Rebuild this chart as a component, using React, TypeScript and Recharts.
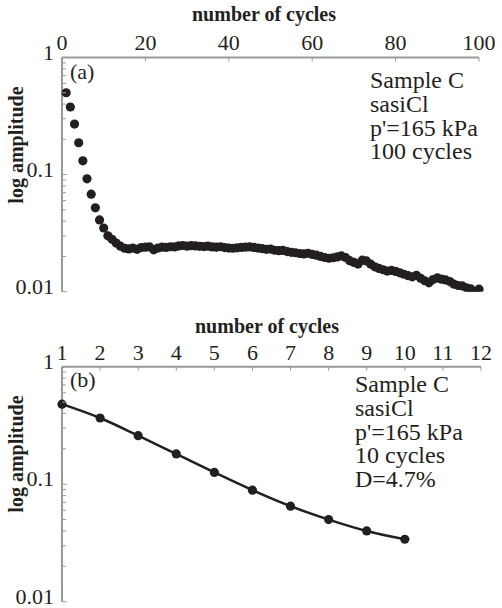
import { LineChart, Line, XAxis, YAxis } from 'recharts'

// panel (a): amplitude per cycle, 100 cycles
const cyclesA = Array.from({ length: 100 }, (_, i) => i + 1)
const amplitudeA = [
  0.50, 0.378, 0.27, 0.187, 0.131, 0.092, 0.068, 0.052, 0.041, 0.035,
  0.030, 0.028, 0.026, 0.0245, 0.0235, 0.0232, 0.0236, 0.0230, 0.0238, 0.0240,
  0.0241, 0.0228, 0.0236, 0.0240, 0.0239, 0.0242, 0.0241, 0.0246, 0.0248, 0.0245,
  0.0247, 0.0246, 0.0244, 0.0243, 0.0245, 0.0241, 0.0240, 0.0242, 0.0238, 0.0236,
  0.0235, 0.0237, 0.0239, 0.0240, 0.0241, 0.0239, 0.0236, 0.0233, 0.0230, 0.0231,
  0.0226, 0.0224, 0.0225, 0.0220, 0.0217, 0.0215, 0.0212, 0.0210, 0.0213, 0.0208,
  0.0205, 0.0200, 0.0196, 0.0193, 0.0195, 0.0198, 0.0202, 0.0196, 0.0184, 0.0178,
  0.0172, 0.0186, 0.0183, 0.0172, 0.0163, 0.0158, 0.0154, 0.0150, 0.0152, 0.0149,
  0.0145, 0.0141, 0.0137, 0.0134, 0.0138, 0.0130, 0.0124, 0.0119, 0.0127, 0.0131,
  0.0128, 0.0126, 0.0122, 0.0116, 0.0113, 0.0112, 0.0108, 0.0106, 0.0100, 0.0105,
]

// panel (b): first 10 cycles
const cyclesB = [1, 2, 3, 4, 5, 6, 7, 8, 9, 10]
const amplitudeB = [0.48, 0.366, 0.259, 0.181, 0.126, 0.089, 0.065, 0.050, 0.040, 0.034]

const xTicksA = [0, 20, 40, 60, 80, 100]
const xTicksB = [1, 2, 3, 4, 5, 6, 7, 8, 9, 10, 11, 12]
const yMajor = [0.01, 0.1, 1]
const yLabels: Record<string, string> = { '0.01': '0.01', '0.1': '0.1', '1': '1' }
const yTicks = [
  0.01, 0.02, 0.03, 0.04, 0.05, 0.06, 0.07, 0.08, 0.09,
  0.1, 0.2, 0.3, 0.4, 0.5, 0.6, 0.7, 0.8, 0.9, 1,
]

const notesA = ['Sample C', 'sasiCl', "p'=165 kPa", '100 cycles']
const notesB = ['Sample C', 'sasiCl', "p'=165 kPa", '10 cycles', 'D=4.7%']

const dataA = cyclesA.map((c, i) => ({ cycle: c, amp: amplitudeA[i] }))
const dataB = cyclesB.map((c, i) => ({ cycle: c, amp: amplitudeB[i] }))

const INK = '#231f20'
const GRAY = '#9a9a9a'
const SERIF = 'Liberation Serif, DejaVu Serif, serif'
const txt = { fontFamily: SERIF }

const XTick = (props: any) => {
  const { x, y, payload, margin } = props
  const axisY = y + margin
  return (
    <g>
      <line x1={x} x2={x} y1={axisY} y2={axisY + 4} stroke={GRAY} />
      <text x={x} y={y} textAnchor="middle" style={txt} fontSize={22} fill={INK}>
        {payload.value}
      </text>
    </g>
  )
}

const YTick = (props: any) => {
  const { x, y, payload } = props
  const axisX = x + 8
  const major = yMajor.includes(payload.value)
  return (
    <g>
      <line x1={axisX} x2={axisX + (major ? 5 : 4)} y1={y} y2={y} stroke={GRAY} />
      {major && (
        <text x={x} y={y} dy={2} textAnchor="end" style={txt} fontSize={22} fill={INK}>
          {yLabels[String(payload.value)]}
        </text>
      )}
    </g>
  )
}

function Panel(props: {
  data: { cycle: number; amp: number }[]
  domain: [number, number]
  xTicks: number[]
  tickGap: number
  height: number
  margin: { top: number; right: number; bottom: number; left: number }
  tag: string
  notes: string[]
  notesX: number
  notesY: number
  titleY: number
  titleX: number
  yLabelY: number
  tagY: number
  line: boolean
}) {
  const p = props
  return (
    <LineChart width={502} height={p.height} data={p.data} margin={p.margin} style={{ overflow: 'visible' }}>
      <XAxis
        dataKey="cycle"
        type="number"
        orientation="top"
        domain={p.domain}
        ticks={p.xTicks}
        interval={0}
        height={32}
        tickSize={0}
        tickLine={false}
        tickMargin={p.tickGap}
        axisLine={{ stroke: GRAY, strokeWidth: 2 }}
        tick={<XTick margin={p.tickGap} />}
      />
      <XAxis xAxisId="bottom" orientation="bottom" height={0} tick={false} tickLine={false}
        axisLine={{ stroke: INK, strokeWidth: 2 }} />
      <YAxis
        dataKey="amp"
        type="number"
        scale="log"
        domain={[0.01, 1]}
        allowDataOverflow
        ticks={yTicks}
        interval={0}
        width={50}
        tickSize={0}
        tickLine={false}
        tickMargin={8}
        axisLine={{ stroke: GRAY, strokeWidth: 2 }}
        tick={<YTick />}
      />
      <YAxis yAxisId="right" orientation="right" width={0} tick={false} tickLine={false}
        axisLine={{ stroke: INK, strokeWidth: 2 }} />
      <Line
        dataKey="amp"
        type="monotone"
        stroke={p.line ? INK : 'none'}
        strokeWidth={2.5}
        dot={{ r: 4.6, fill: INK, stroke: INK, strokeWidth: 0 }}
        isAnimationActive={false}
      />
      <text x={p.titleX} y={p.titleY} textAnchor="middle" style={txt} fontWeight="bold" fontSize={20} fill={INK}>
        number of cycles
      </text>
      <text x={16} y={p.yLabelY} transform={`rotate(-90 16 ${p.yLabelY})`} dy={7} textAnchor="middle"
        style={txt} fontWeight="bold" fontSize={20} fill={INK}>
        log amplitude
      </text>
      <text x={70} y={p.tagY} style={txt} fontSize={22} fill={INK}>{p.tag}</text>
      {p.notes.map((n, i) => (
        <text key={n} x={p.notesX} y={p.notesY + i * 23.8} style={txt} fontSize={24} fill={INK}>
          {n}
        </text>
      ))}
    </LineChart>
  )
}

export default function App() {
  return (
    <div style={{ position: 'absolute', left: 0, top: 0, width: 502, height: 608, background: '#fff' }}>
      <Panel
        data={dataA}
        domain={[0, 100]}
        xTicks={xTicksA}
        tickGap={8}
        height={300}
        margin={{ top: 25.5, right: 23, bottom: 8.3, left: 12 }}
        tag="(a)"
        notes={notesA}
        notesX={370}
        notesY={88}
        titleX={264}
        titleY={21}
        yLabelY={145}
        tagY={79}
        line={false}
      />
      <Panel
        data={dataB}
        domain={[1, 12]}
        xTicks={xTicksB}
        tickGap={7}
        height={308}
        margin={{ top: 34.7, right: 21, bottom: 6.3, left: 12 }}
        tag="(b)"
        notes={notesB}
        notesX={355}
        notesY={92}
        titleX={267}
        titleY={33}
        yLabelY={154}
        tagY={87}
        line={true}
      />
    </div>
  )
}
